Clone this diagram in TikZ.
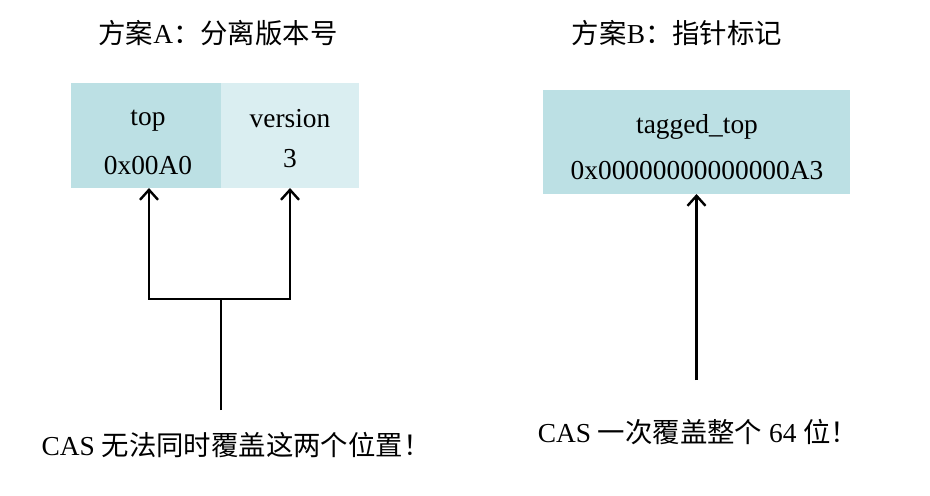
\documentclass[tikz,border=0pt]{standalone}
\usepackage{fontspec}
\setmainfont{Liberation Serif}
\newfontfamily\cjk{Noto Sans CJK SC}
\usetikzlibrary{arrows.meta,positioning}
\definecolor{celldark}{HTML}{BCE0E4}
\definecolor{celllight}{HTML}{DAEEF1}
\newcommand{\zh}[1]{{\cjk #1}}
\tikzset{
  cell/.style={anchor=north west,inner sep=0pt,outer sep=0pt},
  txt/.style={anchor=base,inner sep=0pt}
}
\begin{document}
\begin{tikzpicture}[x=0.5pt,y=-0.5pt,line width=1.2pt,line join=miter,>={Straight Barb[length=5pt,width=9pt]},font=\fontsize{13.7}{16}\selectfont]
			\useasboundingbox (0,0) rectangle (930,495);
			% scheme A
			\node [txt] (titleA) at (218,43) {\zh{方案}A\zh{：分离版本号}};
			\node [cell,fill=celldark,minimum width=75pt,minimum height=52.5pt] (topcell) at (71,83) {};
			\node [cell,fill=celllight,minimum width=69pt,minimum height=52.5pt] (vercell) at (221,83) {};
			\node [txt] (topname) at (148,125) {top};
			\node [txt] (topval) at (148,174) {0x00A0};
			\node [txt] (vername) at (290,127) {version};
			\node [txt] (verval) at (290,167) {3};
			\coordinate (forkA) at (221,299);
			\coordinate (stemA) at (221,410);
			\draw (stemA) -- (forkA);
			\draw [->] (forkA) -| ([xshift=1.5pt]topcell.south);
			\draw [->] (forkA) -| (vercell.south);
			\node [txt] (noteA) at (236,455) {CAS \zh{无法同时覆盖这两个位置！}};
			% scheme B
			\node [txt] (titleB) at (677,43) {\zh{方案}B\zh{：指针标记}};
			\node [cell,fill=celldark,minimum width=153.5pt,minimum height=52pt] (tagcell) at (543,90) {};
			\node [txt] (tagname) at (697,133) {tagged\_top};
			\node [txt] (tagval) at (697,179) {0x00000000000000A3};
			\coordinate (stemB) at (tagcell.south |- 0,380);
			\draw [->] (stemB) -- (tagcell.south);
			\node [txt] (noteB) at (698,442) {CAS \zh{一次覆盖整个} 64 \zh{位！}};
	\end{tikzpicture}
\end{document}
